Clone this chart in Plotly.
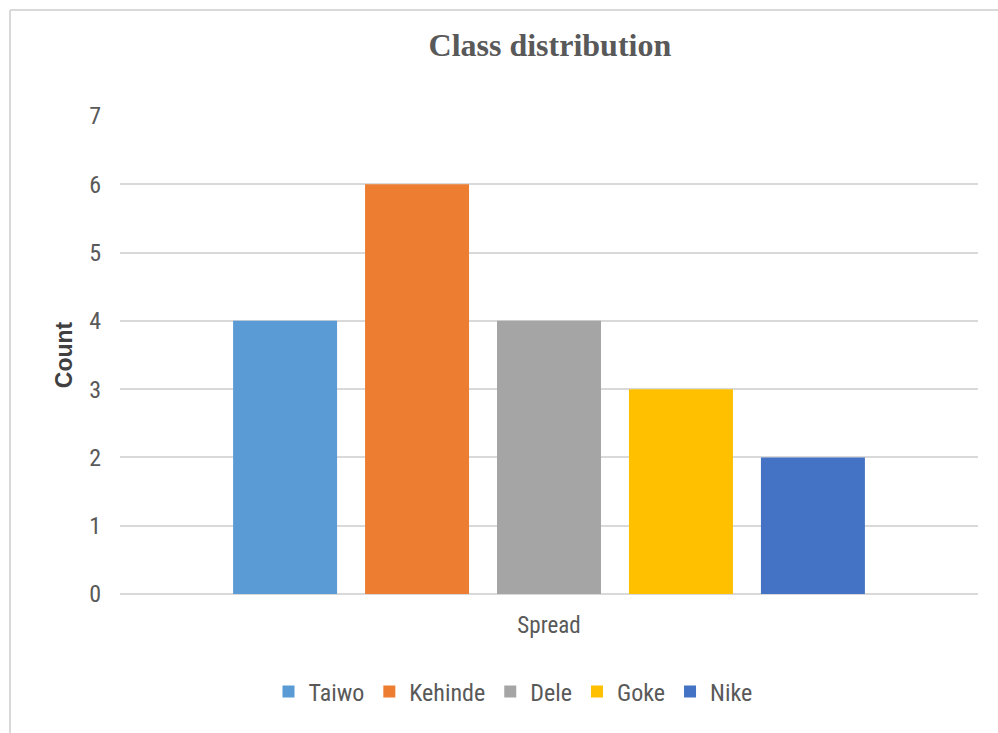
import plotly.graph_objects as go

categories = ["Spread"]
series_names = ["Taiwo", "Kehinde", "Dele", "Goke", "Nike"]
series_values = [4, 6, 4, 3, 2]
series_colors = ["#5B9BD5", "#ED7D31", "#A5A5A5", "#FFC000", "#4472C4"]
y_ticks = [0, 1, 2, 3, 4, 5, 6, 7]

W, H = 998, 733
L, R, T, B = 120, 20, 116, 139

fig = go.Figure()
for name, val, col in zip(series_names, series_values, series_colors):
    fig.add_trace(go.Bar(x=categories, y=[val], name=name, marker_color=col,
                         marker_line_width=0))

font_fam = "Liberation Sans Narrow, Roboto Condensed, Roboto, Liberation Sans, sans-serif"

fig.update_layout(
    width=W, height=H,
    margin=dict(l=L, r=R, t=T, b=B, autoexpand=False),
    paper_bgcolor="white", plot_bgcolor="white",
    barmode="group", bargap=0.231, bargroupgap=0.212,
    title=dict(text="<b>Class distribution</b>", x=0.551, xanchor="center",
               y=1 - 45 / H, yanchor="middle",
               font=dict(family="Liberation Serif, Times New Roman, serif", size=32, color="#595959")),
    font=dict(family=font_fam, color="#595959", size=22),
    showlegend=True,
    legend=dict(orientation="h", x=(513 - L) / (W - L - R), xanchor="center",
                y=-(692 - (H - B)) / (H - T - B), yanchor="middle",
                font=dict(family=font_fam, size=24, color="#595959"),
                itemwidth=30, traceorder="normal", itemsizing="constant"),
    xaxis=dict(showgrid=False, showline=False, ticks="", showticklabels=False,
               title=dict(text="Spread", font=dict(family=font_fam, size=23, color="#595959"),
                          standoff=22)),
    yaxis=dict(range=[0, 7], tickvals=y_ticks, showgrid=True, gridcolor="#D9D9D9",
               gridwidth=1.5, zeroline=True, zerolinecolor="#D9D9D9", zerolinewidth=1.5,
               showline=False, ticks="", ticklabelstandoff=18,
               tickfont=dict(family=font_fam, size=24, color="#595959"),
               title=dict(text="<b>Count</b>", font=dict(family="Liberation Sans, sans-serif", size=23, color="#404040"),
                          standoff=10)),
)

# chart frame (top and left edges)
fig.add_shape(type="line", xref="paper", yref="paper",
              x0=(10 - L) / (W - L - R), x1=(W - L) / (W - L - R),
              y0=1 + (T - 10) / (H - T - B), y1=1 + (T - 10) / (H - T - B),
              line=dict(color="#D9D9D9", width=2))
fig.add_shape(type="line", xref="paper", yref="paper",
              x0=(10 - L) / (W - L - R), x1=(10 - L) / (W - L - R),
              y0=1 + (T - 10) / (H - T - B), y1=-B / (H - T - B),
              line=dict(color="#D9D9D9", width=2))

fig.write_html("out.html")
